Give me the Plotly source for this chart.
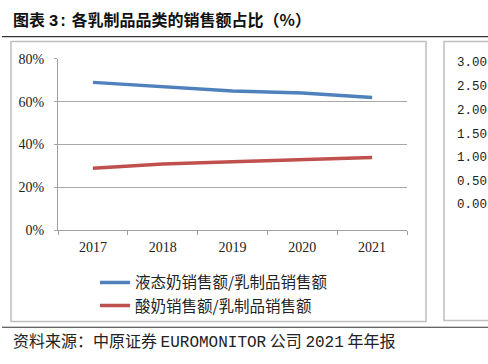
import plotly.graph_objects as go

years = ["2017", "2018", "2019", "2020", "2021"]
liquid_milk_share = [0.69, 0.67, 0.65, 0.64, 0.62]
yogurt_share = [0.29, 0.31, 0.32, 0.33, 0.34]
series_names = ["液态奶销售额/乳制品销售额", "酸奶销售额/乳制品销售额"]
right_axis_labels = ["3.00", "2.50", "2.00", "1.50", "1.00", "0.50", "0.00"]

W, H = 488, 364
def px(x): return x / W
def py(y): return 1 - y / H

SERIF = "Liberation Serif, Noto Sans CJK SC, serif"
CJK = "Noto Sans CJK SC, sans-serif"
MONO = "Liberation Mono, monospace"

fig = go.Figure()
fig.add_trace(go.Scatter(x=years, y=liquid_milk_share, mode="lines", name=series_names[0],
                         line=dict(color="#4F81BD", width=3.5)))
fig.add_trace(go.Scatter(x=years, y=yogurt_share, mode="lines", name=series_names[1],
                         line=dict(color="#C0504D", width=3.5)))

fig.update_layout(
    width=W, height=H, margin=dict(l=0, r=0, t=0, b=0),
    paper_bgcolor="white", plot_bgcolor="white",
    font=dict(family=SERIF, color="#222", size=14),
    xaxis=dict(domain=[px(58), px(407)], type="category", showgrid=False,
               showline=True, linecolor="#a0a0a0", linewidth=1,
               ticks="outside", tickson="boundaries", ticklen=4, tickcolor="#a0a0a0",
               ticklabelstandoff=4,
               tickfont=dict(family=SERIF, size=14), range=[-0.5, 4.5]),
    yaxis=dict(domain=[py(233), py(54)], range=[0, 0.8], dtick=0.2, tickformat=".0%",
               showgrid=True, gridcolor="#a8a8a8", gridwidth=1,
               showline=True, linecolor="#a0a0a0", linewidth=1,
               ticks="outside", ticklen=3, tickcolor="#a0a0a0",
               ticklabelstandoff=7,
               tickfont=dict(family=SERIF, size=14), zeroline=False),
    showlegend=True,
    legend=dict(x=px(95), y=py(270), xanchor="left", yanchor="top",
                font=dict(family=CJK, size=15.5, color="#222"),
                bgcolor="rgba(0,0,0,0)", tracegroupgap=0, itemwidth=30),
)

shapes = [
    dict(type="line", xref="paper", yref="paper", x0=px(2), x1=1, y0=py(31), y1=py(31),
         line=dict(color="#333", width=1.2)),
    dict(type="line", xref="paper", yref="paper", x0=px(2), x1=1, y0=py(334), y1=py(334),
         line=dict(color="#333", width=1.2)),
    dict(type="rect", xref="paper", yref="paper", x0=px(11), x1=px(426), y0=py(328), y1=py(36),
         line=dict(color="#bfbfbf", width=1.5)),
    dict(type="rect", xref="paper", yref="paper", x0=px(444), x1=px(500), y0=py(327), y1=py(36),
         line=dict(color="#bfbfbf", width=1.5)),
]
fig.update_layout(shapes=shapes)

title_txt = ("<b>图表 <span style='font-family:Liberation Mono'>3:</span> "
             "各乳制品品类的销售额占比（%）</b>")
source_txt = ("资料来源：中原证券 <span style='font-family:Liberation Mono'>EUROMONITOR</span> 公司 "
              "<span style='font-family:Liberation Mono'>2021</span> 年年报")
ann = [
    dict(text=title_txt, x=px(11), y=py(13), xref="paper", yref="paper",
         xanchor="left", yanchor="middle", showarrow=False, font=dict(family=CJK, size=16, color="#111")),
    dict(text=source_txt, x=px(11), y=py(347), xref="paper", yref="paper",
         xanchor="left", yanchor="middle", showarrow=False, font=dict(family=CJK, size=16, color="#222")),
]
ys = [58, 83, 108, 133, 158, 182, 207]
for lab, yy in zip(right_axis_labels, ys):
    ann.append(dict(text=lab, x=px(455), y=py(yy), xref="paper", yref="paper", xanchor="left",
                    yanchor="middle", showarrow=False, font=dict(family=MONO, size=12.5, color="#222")))
fig.update_layout(annotations=ann)

fig.write_html("out.html", config={"displayModeBar": False},
               post_script="document.body.style.margin='0';document.documentElement.style.overflow='hidden';document.body.style.overflow='hidden';")
